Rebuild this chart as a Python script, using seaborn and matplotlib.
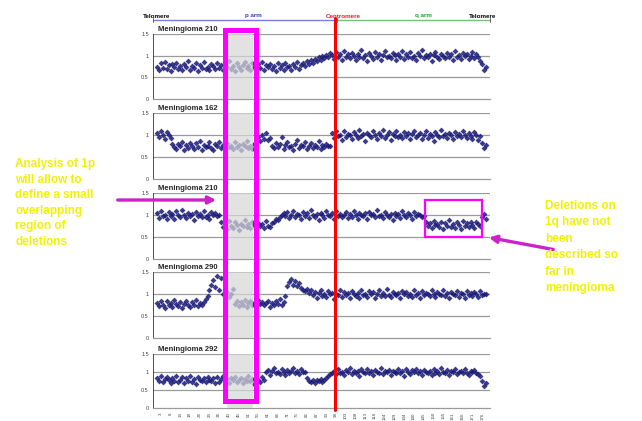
import numpy as np
import matplotlib
matplotlib.use("Agg")
import matplotlib.pyplot as plt
import seaborn as sns
from matplotlib.patches import Rectangle, FancyArrowPatch
from matplotlib.lines import Line2D

sns.set_style("white")
plt.rcParams["font.family"] = ["Liberation Sans", "DejaVu Sans"]

# sample names (panel titles)
samples = ["Meningioma 210", "Meningioma 162", "Meningioma 210", "Meningioma 290", "Meningioma 292"]

# ratio values (x100), p-telomere -> q-telomere
m210a = """
75 66 82 71 86 69 78 64 80 73  84 70 77 67 81 74 88 68 76 72
83 65 79 71 85 70 74 67 81 77  69 84 72 78 66 80 73 87 70 76
64 82 75 68 79 85 71 77 66 83  74 69 80 72 86 67 78 73 81 70
76 65 84 71 79 68 82 74 77 66  80 73 85 70 78 83 76 88 80 90
84 93 88 97 91 99 94 102 97 106
101 92 108 96 104 89 110 98 103 94  107 99 91 105 97 112 95 102 88 106
100 93 109 97 104 90 102 111 96 99  94 107 101 89 105 98 110 93 103 97
108 95 100 91 106 99 113 94 102 96  104 88 101 109 97 92 105 100 95 107
98 103 90 111 96 101 93 106 99 104  92 100 108 95 103 97 88 80 66 74
"""
m162 = """
104 95 110 99 92 106 101 93
80 72 68 79 74 84 66 77 71 82  75 69 81 73 86 67 78 72 76 83
70 65 79 74 85 71 77 68 82 73  76 69 84 72 78 66 80 74 87 71
75 68 79 73
95 86 99 90 104 88 93
76 70 82 73 79 95 68 77 84 72  75 66 80 88 71 78 74 83 69 76
81 70 78 73 86 68 77 72 80 75  74
104 93 108 97 101 88 110 96 103 99  91 106 100 94 112 97 102 86 105 99
95 108 101 92 104 98 111 94 100 107  89 103 97 109 95 101 93 106 98 104
90 102 110 96 99 105 92 101 108 94  103 97 87 106 100 95 111 98 102 93
105 99 91 107 97 103 96 110 100 94  104 98 92 106 101 89 97
82 70 78
"""
m210b = """
104 94 109 98 101 90 106 97 103 92  108 99 95 111 100 93 105 97 102 89
107 98 103 95 110 96 101 92 106 99  104 97 101
84 73 81 69 86 76 71 83 78 67  80 74 88 72 79 70 85 77 68 82
75 80 71 87 76 73 81
85 91 88 96 99 104
97 106 93 101 109 95 103 99 90 107  98 104 94 111 100 96 102 88 105 99
93 108 101 97 104 91 110 98 103 95  100 107 94 102 96 109 99 92 105 101
97 104 90 106 99 103 95 112 98 101  94 107 100 96 103 89 105 98 102 93
108 99 95 104 101 92 106 97 103 100  96 98
84 74 82 70 87 77 79 72 85 68  81 76 88 73 80 71 83 78 69 86
75 81 72 84 77 70 83 79 74
96 103 92
"""
m290 = """
80 72 85 76 69 83 74 79 71 86  77 73 82 68 78 84 75 70 81 76
87 72 79 74 82
88 96 108 121 132 115 141 109 136 101
97 104 93 100 112
78 84 73 81 76 86 70 79 83 75  80 72 87 77 82 74 79 85 71 80
76 83 78 88 74 81
96 119 127 133 121 129 118 126 114 110 106 112 102 108
97 104 91 102 108 95 100 93 106 99  103 89 101 97 110 94 105 98 102 92
107 100 96 103 90 109 98 101 94 106  99 104 92 100 108 96 102 95 111 98
93 105 101 97 103 90 107 99 104 96  100 94 109 98 102 91 106 97 103 100
95 108 99 93 104 101 97 110 96 102  92 105 100 98 106 94 103 99 91 107
98 102 95 104 100 93 106 97 101 99
"""
m292 = """
84 74 89 71 80 86 77 69 83 75  88 72 79 85 70 82 76 90 73 81
68 86 78 74 84 71 87 79 76 82  70 85 73 80 88 75 81 69 83 77
86 72 79 84 70 81 76 89 74 80  67 84 78 72 86 79
99 106 93 104 110 97 101 95 108 100 91 105 98 103 112 96 102 94 107 99 101
82 76 72 79 70 77 74 81 71 78 84
89 95 98
103 94 108 97 101 91 106 99 110 95  102 97 104 89 107 100 96 109 98 103
93 105 101 97 111 94 102 99 106 92  104 100 96 108 98 103 90 107 101 95
105 99 109 97 102 93 106 100 96 104  91 108 98 103 95 110 100 97 105 92
102 99 107 94 101 104 96 109 98 93  103 100 106 97 95
90 74 60 69
"""
ratios = [np.array(s.split(), dtype=float) / 100 for s in (m210a, m162, m210b, m290, m292)]

ytick_vals = [0, 0.5, 1, 1.5]
ytick_labels = ["0", "0.5", "1", "1.5"]
xtick_labels = ["3", "8", "13", "18", "24", "29", "34", "40", "45", "51", "56", "61",
                "66", "71", "76", "82", "87", "93", "98", "103", "108", "113", "118", "124",
                "129", "134", "140", "145", "150", "155", "161", "166", "171", "176"]

W, H = 642, 421
fx = lambda px: px / W
fy = lambda py: 1 - py / H

fig = plt.figure(figsize=(W / 100, H / 100), dpi=100)

tops = [34, 113, 193, 272, 354]
bottoms = [99, 179, 259, 338, 408]
axes = []
for k, (name, vals) in enumerate(zip(samples, ratios)):
    ax = fig.add_axes([fx(153), fy(bottoms[k]), fx(490) - fx(153), (bottoms[k] - tops[k]) / H])
    idx = np.arange(len(vals))
    sns.scatterplot(x=idx, y=vals, ax=ax, color="#181878", s=9, marker="D", linewidth=0,
                    alpha=0.85, zorder=2)
    ax.set_xlim(-2, 171)
    ax.set_ylim(0, 1.5)
    for yv in [0.5, 1, 1.5]:
        ax.axhline(yv, color="#9a9a9a", lw=0.9, zorder=1)
    ax.axvspan(36, 49.3, color="#d8d8d8", alpha=0.72, lw=0, zorder=3)
    for sp in ["top", "right"]:
        ax.spines[sp].set_visible(False)
    ax.spines["bottom"].set_color("#9a9a9a")
    ax.spines["bottom"].set_linewidth(0.9)
    ax.spines["left"].set_color("#333333")
    ax.spines["left"].set_linewidth(0.6)
    ax.set_yticks(ytick_vals)
    ax.set_yticklabels(ytick_labels, fontsize=4, color="#444444")
    ax.tick_params(axis="y", length=2, width=0.5, pad=1)
    if k < 4:
        ax.set_xticks([])
    else:
        ax.set_xticks(np.arange(2, 170, 5))
        ax.set_xticklabels(xtick_labels, rotation=90, fontsize=3.2, color="#444444")
        ax.tick_params(axis="x", length=2, width=0.5, pad=1)
    ax.set_xlabel("")
    ax.set_ylabel("")
    ax.text(0.015, 1.02, name, transform=ax.transAxes, fontsize=5.5, fontweight="bold",
            va="bottom", ha="left")
    axes.append(ax)

# small box on 1q deletion in third panel
axes[2].add_patch(Rectangle((137.6, 0.5), 29.3, 0.84, fill=False, ec="#ff00ff", lw=1.6,
                            clip_on=False, zorder=5))

# header: chromosome arms
hdr = [("Telomere", 157, "black"), ("p arm", 253, "#3c3cc8"), ("Centromere", 343, "#e02020"),
       ("q arm", 423, "#2e9a2e"), ("Telomere", 483, "black")]
for txt, px, col in hdr:
    fig.text(fx(px), fy(16), txt, color=col, fontsize=4.5, fontweight="bold", ha="center", va="center")
fig.add_artist(Line2D([fx(153), fx(337)], [fy(20), fy(20)], color="#7a7ae6", lw=1.0))
fig.add_artist(Line2D([fx(337), fx(490)], [fy(20), fy(20)], color="#7ac07a", lw=1.0))
for px in [153, 337, 490]:
    fig.add_artist(Line2D([fx(px), fx(px)], [fy(18), fy(22)], color="#555555", lw=0.6))

# centromere line
fig.add_artist(Line2D([fx(335), fx(335)], [fy(18), fy(410)], color="#ff0000", lw=2.2))

# minimal overlapping region box
fig.add_artist(Rectangle((fx(224.5), fy(400.5)), (255.5 - 224.5) / W, (400.5 - 30) / H,
                         fill=False, ec="#ff00ff", lw=3.6, transform=fig.transFigure))

# arrows
fig.add_artist(FancyArrowPatch((fx(115), fy(200)), (fx(219), fy(200)), transform=fig.transFigure,
                               arrowstyle="-|>", mutation_scale=11, lw=2.4, color="#cc22cc"))
fig.add_artist(FancyArrowPatch((fx(556), fy(250)), (fx(486), fy(237)), transform=fig.transFigure,
                               arrowstyle="-|>", mutation_scale=11, lw=2.4, color="#cc22cc"))

# annotations
fig.text(fx(15), fy(158), "Analysis of 1p\nwill allow to\ndefine a small\noverlapping\nregion of\ndeletions",
         color="#f2f200", fontsize=8.5, fontweight="bold", ha="left", va="top", linespacing=1.4)
fig.text(fx(545), fy(200), "Deletions on\n1q have not\nbeen\ndescribed so\nfar in\nmeningioma",
         color="#f2f200", fontsize=8.5, fontweight="bold", ha="left", va="top", linespacing=1.5)

fig.savefig("out.png", dpi=100)
